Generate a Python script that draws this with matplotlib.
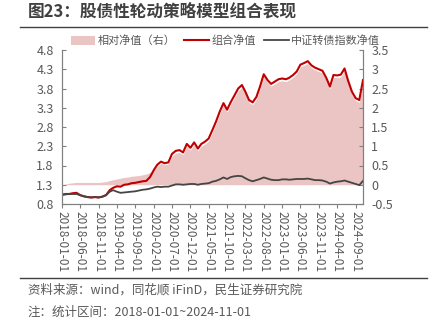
import pandas as pd
import numpy as np
import matplotlib
matplotlib.use("Agg")
import matplotlib.pyplot as plt
from matplotlib.patches import Patch
from matplotlib.lines import Line2D

plt.rcParams["font.family"] = ["Noto Sans CJK SC", "DejaVu Sans"]
plt.rcParams["axes.unicode_minus"] = False

# COLORS
RED_COLOR = "#c00000"
GRAY_COLOR = "#454545"
PINK_COLOR = "#ebc4c4"
TEXT_COLOR = "#595959"

# ==========================
# DATA (monthly)
# ==========================

months = pd.date_range("2018-01-01", "2024-11-01", freq="MS")

# 组合净值 (left axis)
portfolio = [
    1.04, 1.06, 1.06, 1.08, 1.09, 1.03, 1.00, 0.98, 0.97, 0.98, 0.97, 0.99,
    1.03, 1.16, 1.22, 1.26, 1.25, 1.30, 1.31, 1.34, 1.35, 1.37, 1.39, 1.40,
    1.50, 1.68, 1.82, 1.90, 1.86, 1.88, 2.10, 2.18, 2.20, 2.14, 2.36, 2.26,
    2.40, 2.24, 2.36, 2.42, 2.50, 2.72, 2.94, 3.20, 3.42, 3.25, 3.45, 3.62,
    3.80, 3.89, 3.72, 3.50, 3.44, 3.58, 3.85, 4.17, 4.02, 3.92, 3.98, 4.04,
    4.06, 4.04, 4.08, 4.15, 4.24, 4.42, 4.46, 4.51, 4.40, 4.34, 4.30, 4.26,
    4.08, 3.85, 4.15, 4.14, 4.16, 4.32, 4.00, 3.72, 3.55, 3.50, 4.02,
]

# 中证转债指数净值 (left axis)
cb_index = [
    1.04, 1.05, 1.06, 1.06, 1.06, 1.03, 1.00, 0.98, 0.97, 0.98, 0.97, 0.99,
    1.03, 1.12, 1.16, 1.12, 1.09, 1.10, 1.11, 1.12, 1.13, 1.15, 1.17, 1.18,
    1.20, 1.23, 1.25, 1.24, 1.25, 1.25, 1.28, 1.31, 1.31, 1.30, 1.31, 1.32,
    1.32, 1.30, 1.32, 1.33, 1.34, 1.38, 1.40, 1.44, 1.49, 1.45, 1.50, 1.52,
    1.53, 1.52, 1.47, 1.42, 1.39, 1.42, 1.45, 1.49, 1.46, 1.43, 1.42, 1.42,
    1.44, 1.44, 1.43, 1.44, 1.45, 1.45, 1.45, 1.46, 1.44, 1.42, 1.42, 1.41,
    1.38, 1.33, 1.36, 1.38, 1.39, 1.41, 1.38, 1.35, 1.32, 1.29, 1.40,
]

# 相对净值 (right axis)
relative = [
    0.00, 0.02, 0.04, 0.05, 0.06, 0.06, 0.06, 0.06, 0.06, 0.06, 0.06, 0.07,
    0.08, 0.11, 0.13, 0.15, 0.17, 0.19, 0.20, 0.22, 0.23, 0.24, 0.26, 0.28,
    0.32, 0.36, 0.48, 0.56, 0.52, 0.54, 0.74, 0.82, 0.84, 0.78, 1.00, 0.90,
    1.04, 0.88, 1.00, 1.06, 1.14, 1.36, 1.58, 1.84, 2.06, 1.89, 2.09, 2.26,
    2.44, 2.53, 2.36, 2.14, 2.08, 2.22, 2.49, 2.81, 2.66, 2.56, 2.62, 2.68,
    2.70, 2.68, 2.72, 2.79, 2.88, 3.06, 3.10, 3.15, 3.04, 2.98, 2.94, 2.90,
    2.72, 2.49, 2.79, 2.78, 2.80, 2.96, 2.64, 2.36, 2.19, 2.14, 2.66,
]

x_tick_labels = [
    "2018-01-01", "2018-06-01", "2018-11-01", "2019-04-01", "2019-09-01",
    "2020-02-01", "2020-07-01", "2020-12-01", "2021-05-01", "2021-10-01",
    "2022-03-01", "2022-08-01", "2023-01-01", "2023-06-01", "2023-11-01",
    "2024-04-01", "2024-09-01",
]
left_ticks = [0.8, 1.3, 1.8, 2.3, 2.8, 3.3, 3.8, 4.3, 4.8]
right_ticks = [-0.5, 0, 0.5, 1, 1.5, 2, 2.5, 3, 3.5]

# ==========================
# FIGURE
# ==========================

fig = plt.figure(figsize=(4.38, 3.26), dpi=100)
ax1 = fig.add_axes([62 / 438, 1 - 204 / 326, 301 / 438, 154 / 326])
ax2 = ax1.twinx()

ax2.fill_between(months, 0, relative, color=PINK_COLOR, linewidth=0,
                 label="相对净值（右）")

ax1.plot(months, portfolio, color=RED_COLOR, linewidth=1.5, label="组合净值")
ax1.plot(months, cb_index, color=GRAY_COLOR, linewidth=1.3,
         label="中证转债指数净值")

# lines above the fill
ax1.set_zorder(ax2.get_zorder() + 1)
ax1.patch.set_visible(False)

ax1.set_ylim(0.8, 4.8)
ax1.set_yticks(left_ticks)
ax1.set_yticklabels([f"{v:.1f}" for v in left_ticks])
ax2.set_ylim(-0.5, 3.5)
ax2.set_yticks(right_ticks)
ax2.set_yticklabels([f"{v:g}" for v in right_ticks])

tick_dates = pd.to_datetime(x_tick_labels)
ax1.set_xlim(months[0], months[-1])
ax1.set_xticks(tick_dates)
ax1.set_xticklabels(x_tick_labels, rotation=-90)

for ax in (ax1, ax2):
    ax.spines["top"].set_visible(False)
    for s in ("left", "right", "bottom"):
        ax.spines[s].set_color("#808080")
        ax.spines[s].set_linewidth(0.8)
    ax.tick_params(axis="y", direction="in", length=3, width=0.8,
                   colors="#808080", labelcolor=TEXT_COLOR, labelsize=9, pad=6)

ax1.tick_params(axis="x", direction="out", length=3, width=0.8,
                colors="#808080", labelcolor=TEXT_COLOR, labelsize=8.5, pad=2)

# --------------------------
# LEGEND
# --------------------------

handles = [
    Patch(facecolor=PINK_COLOR, edgecolor="none"),
    Line2D([0], [0], color=RED_COLOR, linewidth=1.5),
    Line2D([0], [0], color=GRAY_COLOR, linewidth=1.3),
]
labels = ["相对净值（右）", "组合净值", "中证转债指数净值"]
fig.legend(handles, labels, loc="center", bbox_to_anchor=(0.515, 1 - 41 / 326),
           ncol=3, frameon=False, fontsize=8, labelcolor=TEXT_COLOR,
           handlelength=2.2, handleheight=0.9, columnspacing=0.8,
           handletextpad=0.2, borderpad=0.2)

# --------------------------
# TITLE / NOTES
# --------------------------

fig.text(28 / 438, 1 - 12 / 326, "图23：股债性轮动策略模型组合表现",
         fontsize=12, fontweight="bold", color="#404040", va="center")
fig.add_artist(Line2D([20 / 438, 427 / 438], [1 - 27 / 326, 1 - 27 / 326],
                      color="#404040", linewidth=1.0))
fig.add_artist(Line2D([20 / 438, 427 / 438], [1 - 278 / 326, 1 - 278 / 326],
                      color="#404040", linewidth=1.0))
fig.text(28 / 438, 1 - 290 / 326, "资料来源：wind，同花顺 iFinD，民生证券研究院",
         fontsize=9, color=TEXT_COLOR, va="center")
fig.text(28 / 438, 1 - 312 / 326, "注：统计区间：2018-01-01~2024-11-01",
         fontsize=9, color=TEXT_COLOR, va="center")

fig.savefig("out.png", dpi=100)
plt.close(fig)
